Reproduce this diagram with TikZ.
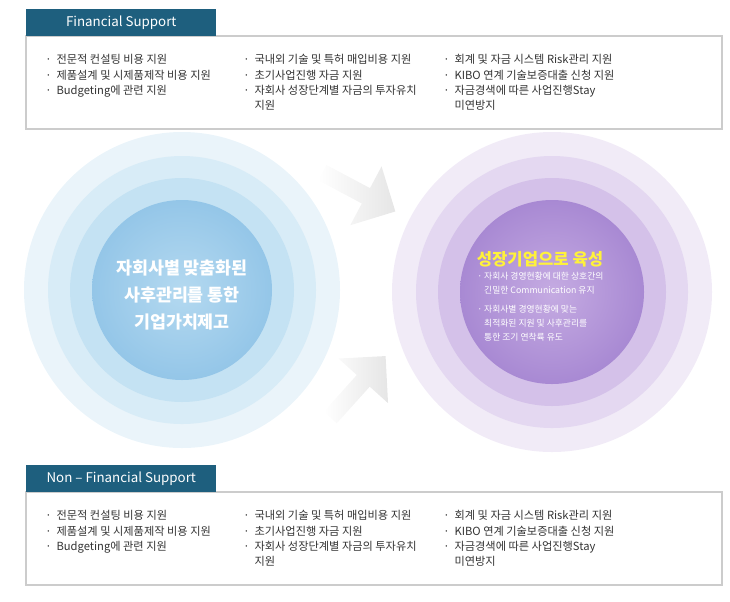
\documentclass[tikz,border=0pt]{standalone}
\usepackage{fontspec}
\setmainfont{Noto Sans CJK KR}
\usetikzlibrary{positioning,shapes.arrows}
\definecolor{mteal}{HTML}{1E5F7E}
\definecolor{mgrey}{HTML}{CCCCCC}
\definecolor{mtext}{HTML}{333333}
\definecolor{myellow}{HTML}{FFF23A}
\definecolor{bone}{HTML}{EAF4FA}
\definecolor{btwo}{HTML}{D8ECF7}
\definecolor{bthree}{HTML}{C4E2F3}
\definecolor{bin}{HTML}{B4D9F0}
\definecolor{bout}{HTML}{94C6E8}
\definecolor{pone}{HTML}{F1EBF7}
\definecolor{ptwo}{HTML}{E4D8F1}
\definecolor{pthree}{HTML}{D4C1E9}
\definecolor{pin}{HTML}{C5ABE2}
\definecolor{pout}{HTML}{A889D3}
\tikzstyle{tab}=[fill=mteal, draw=none, anchor=north west, minimum width=142.5pt, minimum height=20pt, text=white, font=\fontsize{10}{12}\selectfont]
\tikzstyle{panel}=[draw=mgrey, line width=0.8, fill=white]
\tikzstyle{item}=[anchor=north west, align=left, text=mtext, font=\fontsize{8.4}{11.6}\selectfont, inner sep=0pt]
\tikzstyle{flow}=[single arrow, draw=none, minimum height=62pt, minimum width=50pt, single arrow head extend=10pt, single arrow tip angle=90, shading=axis, left color=white, right color=black!10]
\newcommand{\supportbox}[2]{%
    \path[panel] (26,#1) rectangle (722,#1+93);
    \node (#2tab) [tab] at (26,#1-27) {#2};
    \node (#2a) [item] at (45,#1+18) {·\ \ 전문적 컨설팅 비용 지원\\·\ \ 제품설계 및 시제품제작 비용 지원\\·\ \ Budgeting에 관련 지원};
    \node (#2b) [item] at (243,#1+18) {·\ \ 국내외 기술 및 특허 매입비용 지원\\·\ \ 초기사업진행 자금 지원\\·\ \ 자회사 성장단계별 자금의 투자유치\\\phantom{·\ \ }지원};
    \node (#2c) [item] at (443,#1+18) {·\ \ 회계 및 자금 시스템 Risk관리 지원\\·\ \ KIBO 연계 기술보증대출 신청 지원\\·\ \ 자금경색에 따른 사업진행Stay\\\phantom{·\ \ }미연방지};
}

\begin{document}
\begin{tikzpicture}[x=0.75pt, y=-0.75pt]
    \useasboundingbox (0,0) rectangle (730,601);

    \supportbox{36}{Financial Support}
    \supportbox{492}{Non -- Financial Support}

    % left circle
    \begin{scope}[shift={(182,290)}]
        \fill[bone] (0,0) circle (158);
        \fill[btwo] (0,0) circle (134);
        \fill[bthree] (0,0) circle (112);
        \shade[inner color=bin, outer color=bout] (0,0) circle (90);
        \node (lefttext) [text=white, align=center, font=\fontsize{13}{20.5}\selectfont\bfseries] at (0,5) {자회사별 맞춤화된\\사후관리를 통한\\기업가치제고};
    \end{scope}

    % right circle
    \begin{scope}[shift={(552,292)}]
        \fill[pone] (0,0) circle (160);
        \fill[ptwo] (0,0) circle (136);
        \fill[pthree] (0,0) circle (114);
        \shade[inner color=pin, outer color=pout] (0,0) circle (92);
        \node (title) [text=myellow, font=\fontsize{12.5}{14}\selectfont\bfseries] at (-12,-33) {성장기업으로 육성};
        \node (rightitems) [item, text=white, font=\fontsize{6.6}{10.5}\selectfont] at (-75,-20) {·\ 자회사 경영현황에 대한 상호간의\\\phantom{·\ }긴밀한 Communication 유지\\[4pt]·\ 자회사별 경영현황에 맞는\\\phantom{·\ }최적화된 지원 및 사후관리를\\\phantom{·\ }통한 조기 연착륙 유도};
    \end{scope}

    % arrows
    \node (upper) [flow, rotate=-28] at (355,190) {};
    \node (lower) [flow, rotate=48] at (355,390) {};

\end{tikzpicture}
\end{document}
